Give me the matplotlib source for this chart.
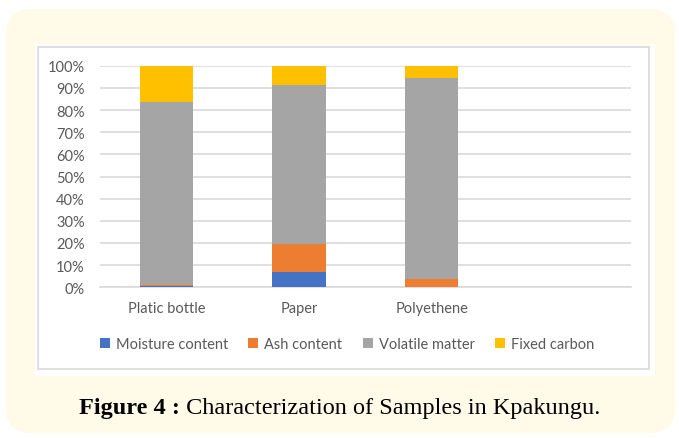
import numpy as np
import matplotlib.pyplot as plt
from matplotlib.patches import FancyBboxPatch, Rectangle

categories = ["Platic bottle", "Paper", "Polyethene", ""]
moisture = [0.4, 6.8, 0.0, 0.0]
ash = [0.5, 12.7, 3.7, 0.0]
volatile = [82.8, 71.6, 90.7, 0.0]
fixed_carbon = [16.3, 8.9, 5.6, 0.0]
series_names = ["Moisture content", "Ash content", "Volatile matter", "Fixed carbon"]
colors = ["#4472C4", "#ED7D31", "#A5A5A5", "#FFC000"]

W, H = 679, 439
fig = plt.figure(figsize=(W / 100, H / 100), dpi=100)
fig.patch.set_facecolor("white")

def px(x, y, w, h):
    # pixel box (top-left origin) -> inches box for dpi_scale_trans
    return x / 100, (H - y - h) / 100, w / 100, h / 100

x0, y0, w0, h0 = px(6, 10, 669, 424)
fig.patches.append(FancyBboxPatch((x0 + 0.25, y0 + 0.25), w0 - 0.5, h0 - 0.5,
                                  boxstyle="round,pad=0.25", transform=fig.dpi_scale_trans,
                                  facecolor="#FFFBE8", edgecolor="none", zorder=0))
x1, y1, w1, h1 = px(35, 45, 620, 332)
fig.patches.append(Rectangle((x1, y1), w1, h1, transform=fig.dpi_scale_trans,
                             facecolor="white", edgecolor="none", zorder=1))
x2, y2, w2, h2 = px(37.5, 47.5, 611, 322)
fig.patches.append(Rectangle((x2, y2), w2, h2, transform=fig.dpi_scale_trans,
                             facecolor="white", edgecolor="#D9D9D9", lw=1.2, zorder=2))

ax = fig.add_axes([100 / W, 1 - 288.3 / H, 530.7 / W, 221.6 / H])
ax.set_facecolor("none")
ax.set_zorder(3)

x = np.arange(len(categories))
data = [moisture, ash, volatile, fixed_carbon]
bottom = np.zeros(len(categories))
handles = []
for vals, name, c in zip(data, series_names, colors):
    b = ax.bar(x, vals, 0.4, bottom=bottom, color=c, label=name, zorder=3)
    handles.append(b)
    bottom += np.array(vals)

ax.set_xlim(-0.5, len(categories) - 0.5)
ax.set_ylim(0, 100)
ax.set_yticks(np.arange(0, 101, 10))
ax.set_yticklabels([f"{v}%" for v in range(0, 101, 10)])
ax.set_xticks(x)
ax.set_xticklabels(categories)
ax.yaxis.grid(True, color="#D9D9D9", lw=1.2)
ax.set_axisbelow(True)
for s in ["top", "right", "left"]:
    ax.spines[s].set_visible(False)
ax.spines["bottom"].set_color("#D9D9D9")
ax.spines["bottom"].set_linewidth(1.2)
ax.tick_params(length=0, labelsize=10.5, labelcolor="#595959")
ax.tick_params(axis="y", pad=11)
ax.tick_params(axis="x", pad=10)
for t in ax.get_xticklabels() + ax.get_yticklabels():
    t.set_family("Lato")

fig.legend(handles=handles, labels=series_names, loc="center", ncol=4,
           bbox_to_anchor=(347 / W, 1 - 345 / H), frameon=False,
           handlelength=0.7, handleheight=0.7, handletextpad=0.4, columnspacing=1.4,
           prop={"family": "Lato", "size": 10.5}, labelcolor="#595959")

t1 = fig.text(0, 1 - 414 / H, "Figure 4 :", fontsize=17.5, fontweight="bold",
              family="Liberation Serif", va="baseline", ha="left")
t2 = fig.text(0, 1 - 414 / H, " Characterization of Samples in Kpakungu.", fontsize=17.5,
              family="Liberation Serif", va="baseline", ha="left")
fig.canvas.draw()
r = fig.canvas.get_renderer()
w_a = t1.get_window_extent(r).width
w_b = t2.get_window_extent(r).width
start = 340 - (w_a + w_b) / 2
t1.set_x(start / W)
t2.set_x((start + w_a) / W)

fig.savefig("out.png", dpi=100)
